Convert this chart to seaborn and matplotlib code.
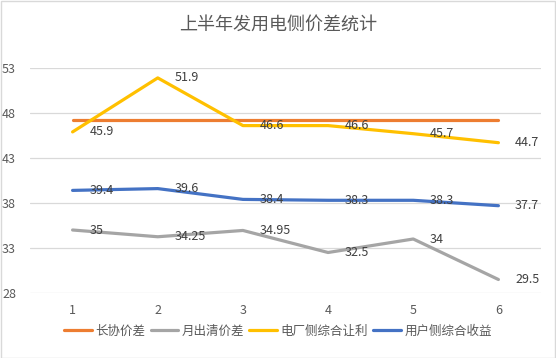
import pandas as pd
import seaborn as sns
import matplotlib.pyplot as plt
from matplotlib.patches import Rectangle

# 数据
months = [1, 2, 3, 4, 5, 6]
changxie = [47.2, 47.2, 47.2, 47.2, 47.2, 47.2]
yuechuqing = [35, 34.25, 34.95, 32.5, 34, 29.5]
dianchang = [45.9, 51.9, 46.6, 46.6, 45.7, 44.7]
yonghu = [39.4, 39.6, 38.4, 38.3, 38.3, 37.7]

names = ['长协价差', '月出清价差', '电厂侧综合让利', '用户侧综合收益']
colors = ['#ED7D31', '#A5A5A5', '#FFC000', '#4472C4']
series = [changxie, yuechuqing, dianchang, yonghu]
show_label = [False, True, True, True]

df = pd.DataFrame({'month': months * 4,
                   'value': changxie + yuechuqing + dianchang + yonghu,
                   'name': [n for n in names for _ in months]})

sns.set_style('white')
plt.rcParams['font.family'] = ['Noto Sans CJK SC', 'DejaVu Sans']

fig = plt.figure(figsize=(5.56, 3.58), dpi=100)
ax = fig.add_axes([30 / 556, 1 - 293 / 358, 511 / 556, 225 / 358])

sns.lineplot(data=df, x='month', y='value', hue='name', hue_order=names,
             palette=colors, linewidth=2.3, ax=ax, legend=False, zorder=3)

# 数据标签
for vals, c, show in zip(series, colors, show_label):
    if not show:
        continue
    for m, v in zip(months, vals):
        ax.annotate(f'{v:g}', (m, v), xytext=(12, 0), textcoords='offset points',
                    va='center', ha='left', fontsize=9, color='#404040', zorder=4)

ax.set_xlim(0.5, 6.5)
ax.set_ylim(28, 53)
ax.set_yticks([28, 33, 38, 43, 48, 53])
ax.set_xticks(months)
ax.grid(axis='y', color='#D9D9D9', linewidth=0.9, zorder=0)
for s in ax.spines.values():
    s.set_visible(False)
ax.tick_params(axis='both', length=0, labelsize=9, labelcolor='#595959')
ax.tick_params(axis='x', pad=8)
ax.tick_params(axis='y', pad=10)
ax.set_xlabel('')
ax.set_ylabel('')

fig.suptitle('上半年发用电侧价差统计', y=0.955, fontsize=13, color='#595959')

handles = [plt.Line2D([], [], color=c, linewidth=2.3) for c in colors]
fig.legend(handles, names, loc='center', bbox_to_anchor=(0.5, 1 - 331 / 358),
           ncol=4, frameon=False, fontsize=9, handlelength=2.2,
           handletextpad=0.3, columnspacing=0.4, labelcolor='#595959')

fig.add_artist(Rectangle((0.001, 0.001), 0.997, 0.996, transform=fig.transFigure,
                         fill=False, edgecolor='#D9D9D9', linewidth=1))

fig.savefig('out.png', dpi=100)
